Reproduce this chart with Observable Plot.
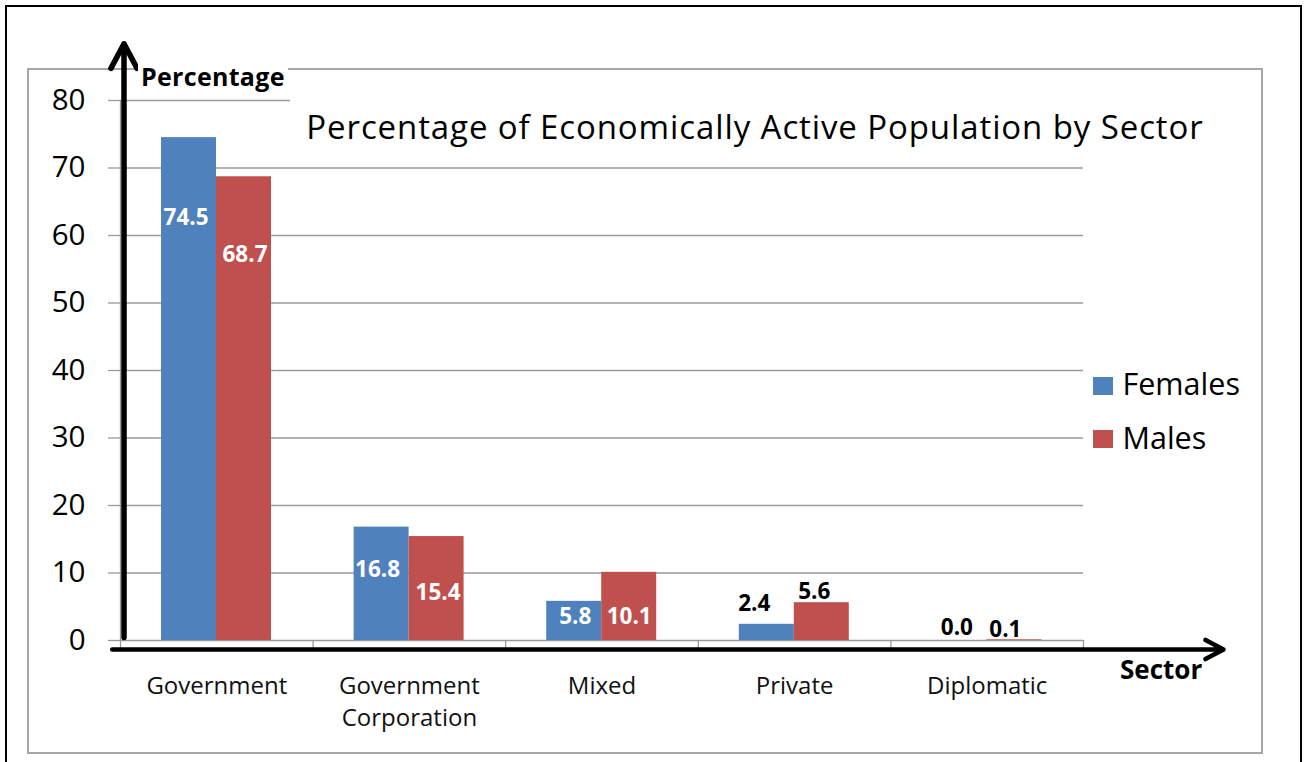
<!DOCTYPE html>
<html>
<head>
<meta charset="utf-8">
<script src="https://cdn.jsdelivr.net/npm/d3@7"></script>
<script src="https://cdn.jsdelivr.net/npm/@observablehq/plot@0.6"></script>
<style>
  html, body { margin: 0; padding: 0; background: #fff; }
  #wrap { position: relative; width: 1306px; height: 762px; overflow: hidden; background: #fff; font-family: "Open Sans", sans-serif; }
  .outer { position: absolute; left: 5px; top: 5px; width: 1297px; height: 800px; border: 2px solid #000; box-sizing: border-box; }
  .inner { position: absolute; left: 27px; top: 68px; width: 1236px; height: 686px; border: 2px solid #a6a6a6; box-sizing: border-box; }
  #chart { position: absolute; left: 0; top: 0; }
  .lbl { position: absolute; line-height: 1; white-space: nowrap; color: #000; }
  .titlebox { position: absolute; left: 290px; top: 94px; width: 930px; height: 68px; background: #fff; }
  .title { left: 290px; width: 930px; text-align: center; top: 110px; font-size: 33px; letter-spacing: 0.9px; }
  .ylab { left: 138px; top: 62.5px; padding: 1px 3px; font-size: 25px; letter-spacing: 0.3px; font-weight: 700; background: #fff; }
  .xlab { left: 1120px; top: 656px; font-size: 26px; font-weight: 700; }
  .key { position: absolute; left: 1093px; width: 20px; height: 18px; }
  .keytext { left: 1122.5px; font-size: 30.5px; }
</style>
</head>
<body>
<div id="wrap">
  <div class="outer"></div>
  <div class="inner"></div>
  <div id="chart"></div>
  <div class="titlebox"></div>
  <div class="lbl title">Percentage of Economically Active Population by Sector</div>
  <div class="lbl ylab">Percentage</div>
  <div class="lbl xlab">Sector</div>
  <div id="legend"></div>
</div>
<script>
// Economically active population by sector (%)
const sectors = ["Government", "Government Corporation", "Mixed", "Private", "Diplomatic"];
const sectorLabels = ["Government", "Government\nCorporation", "Mixed", "Private", "Diplomatic"];
const series = ["Females", "Males"];
const females = [74.5, 16.8, 5.8, 2.4, 0.0];
const males = [68.7, 15.4, 10.1, 5.6, 0.1];
const yTicks = [0, 10, 20, 30, 40, 50, 60, 70, 80];
const seriesColors = ["#4f81bd", "#c0504d"];

// Long table built from the arrays above
const rows = [];
sectors.forEach((s, i) => {
  rows.push({sector: s, index: i, series: "Females", slot: 0, value: females[i]});
  rows.push({sector: s, index: i, series: "Males", slot: 1, value: males[i]});
});

// Bar layout inside each sector band (fractions of the band)
const groupPad = 0.213;
const barFrac = 0.2855;
// Hand placement of the value labels: [dx, dy] in pixels, per series and sector
const labelShift = {
  Females: [[-3, 80], [-4, 43], [1, 15], [-12.5, -21], [-2.5, -12.5]],
  Males:   [[1, 78], [1.5, 56.5], [0, 44], [-7.5, -10.5], [-9, -10.5]]
};
const insideLabel = (d) => d.index < 3;

const gray = "#9a9a9a";

const chart = Plot.plot({
  width: 1306,
  height: 762,
  marginLeft: 120,
  marginRight: 223,
  marginTop: 100,
  marginBottom: 122,
  style: {background: "transparent", fontFamily: "Open Sans, sans-serif"},
  x: {domain: [0, sectors.length], axis: null},
  y: {domain: [0, 80], axis: null},
  color: {domain: series, range: seriesColors},
  marks: [
    Plot.gridY(yTicks, {stroke: gray, strokeOpacity: 1, strokeWidth: 1.3}),
    Plot.axisY(yTicks, {
      tickSize: 12, tickPadding: 23, stroke: gray, strokeWidth: 1.3,
      fontSize: 29.5, label: null, tickFormat: d3.format("d")
    }),
    Plot.ruleX([0], {y1: 0, y2: 80, stroke: gray, strokeWidth: 1.3}),
    Plot.axisX(d3.range(0, sectors.length + 1), {
      tickSize: 8, stroke: gray, strokeWidth: 1.3, tickFormat: () => "", label: null
    }),
    Plot.rect(rows, {
      x1: (d) => d.index + groupPad + d.slot * barFrac,
      x2: (d) => d.index + groupPad + (d.slot + 1) * barFrac,
      y1: 0,
      y2: "value",
      fill: "series"
    }),
    // value labels, one mark each so every label keeps its own offset
    ...rows.map((d) => Plot.text([d], {
      x: (r) => r.index + groupPad + (r.slot + 0.5) * barFrac,
      y: "value",
      text: (r) => r.value.toFixed(1),
      dx: labelShift[d.series][d.index][0],
      dy: labelShift[d.series][d.index][1],
      fill: insideLabel(d) ? "white" : "black",
      fontSize: 22.5,
      fontWeight: "bold"
    })),
    // category labels under the axis
    Plot.text(sectorLabels, {
      x: (d, i) => i + 0.5,
      text: (d) => d,
      frameAnchor: "bottom",
      lineAnchor: "top",
      dy: 30.5,
      lineHeight: 1.333,
      fontSize: 24,
      fill: "#111"
    }),
    // axis arrows
    Plot.arrow([0], {
      x1: 0, x2: 0, y1: 0, y2: 88.4, dx: 3.5,
      insetStart: 3,
      stroke: "black", strokeWidth: 5.5, headLength: 7.6, headAngle: 56
    }),
    Plot.arrow([0], {
      x1: -0.043, x2: 5.727, y1: 0, y2: 0, dy: 9,
      stroke: "black", strokeWidth: 4.5, headLength: 6.8, headAngle: 56
    })
  ]
});

document.getElementById("chart").appendChild(chart);

// Legend: swatches from the chart's colour scale, stacked vertically
const colorScale = chart.scale("color");
const legend = document.getElementById("legend");
const keyTops = [376.5, 429.5];
const textTops = [368, 422];
colorScale.domain.forEach((name, i) => {
  const sw = document.createElement("div");
  sw.className = "key";
  sw.style.top = keyTops[i] + "px";
  sw.style.background = colorScale.range[i];
  legend.appendChild(sw);
  const tx = document.createElement("div");
  tx.className = "lbl keytext";
  tx.style.top = textTops[i] + "px";
  tx.textContent = name;
  legend.appendChild(tx);
});
</script>
</body>
</html>
